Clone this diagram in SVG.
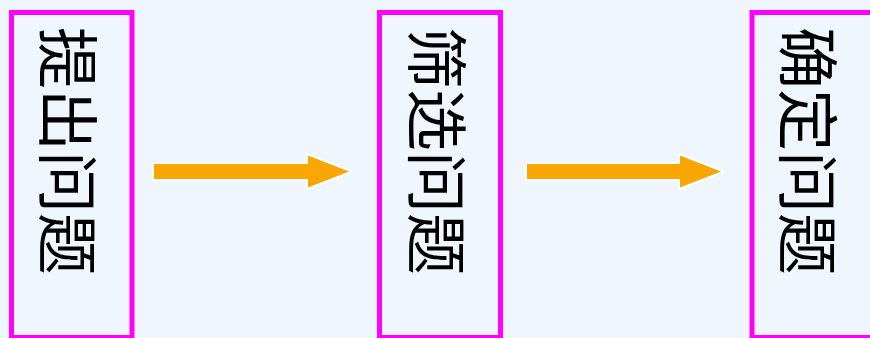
<svg xmlns="http://www.w3.org/2000/svg" width="870" height="338" viewBox="0 0 870 338">
<style>
.box{fill:none;stroke:#FF00FF;stroke-width:5}
.lbl{font-family:"Noto Sans CJK SC","Noto Sans",sans-serif;font-size:62px;fill:#000;text-anchor:middle;dominant-baseline:central}
.arrow{fill:#F9A602;stroke:#FFFFFF;stroke-width:2;stroke-linejoin:miter}
</style>
<rect x="0" y="0" width="870" height="338" fill="#EFF6FE"/>
<g id="node1">
<rect class="box" x="11.5" y="12.5" width="120.5" height="325"/>
<text class="lbl" transform="translate(71,151) rotate(90)">提出问题</text>
</g>
<g id="node2">
<rect class="box" x="379.5" y="12.5" width="121" height="325"/>
<text class="lbl" transform="translate(440,151) rotate(90)">筛选问题</text>
</g>
<g id="node3">
<rect class="box" x="752" y="12.5" width="125" height="325"/>
<text class="lbl" transform="translate(811,151) rotate(90)">确定问题</text>
</g>
<g id="connectors">
<path class="arrow" d="M153,163 L307,163 L307,154 L352,171.5 L307,189 L307,180 L153,180 Z"/>
<path class="arrow" d="M526,163 L679,163 L679,154 L724,171.5 L679,189 L679,180 L526,180 Z"/>
</g>
</svg>
